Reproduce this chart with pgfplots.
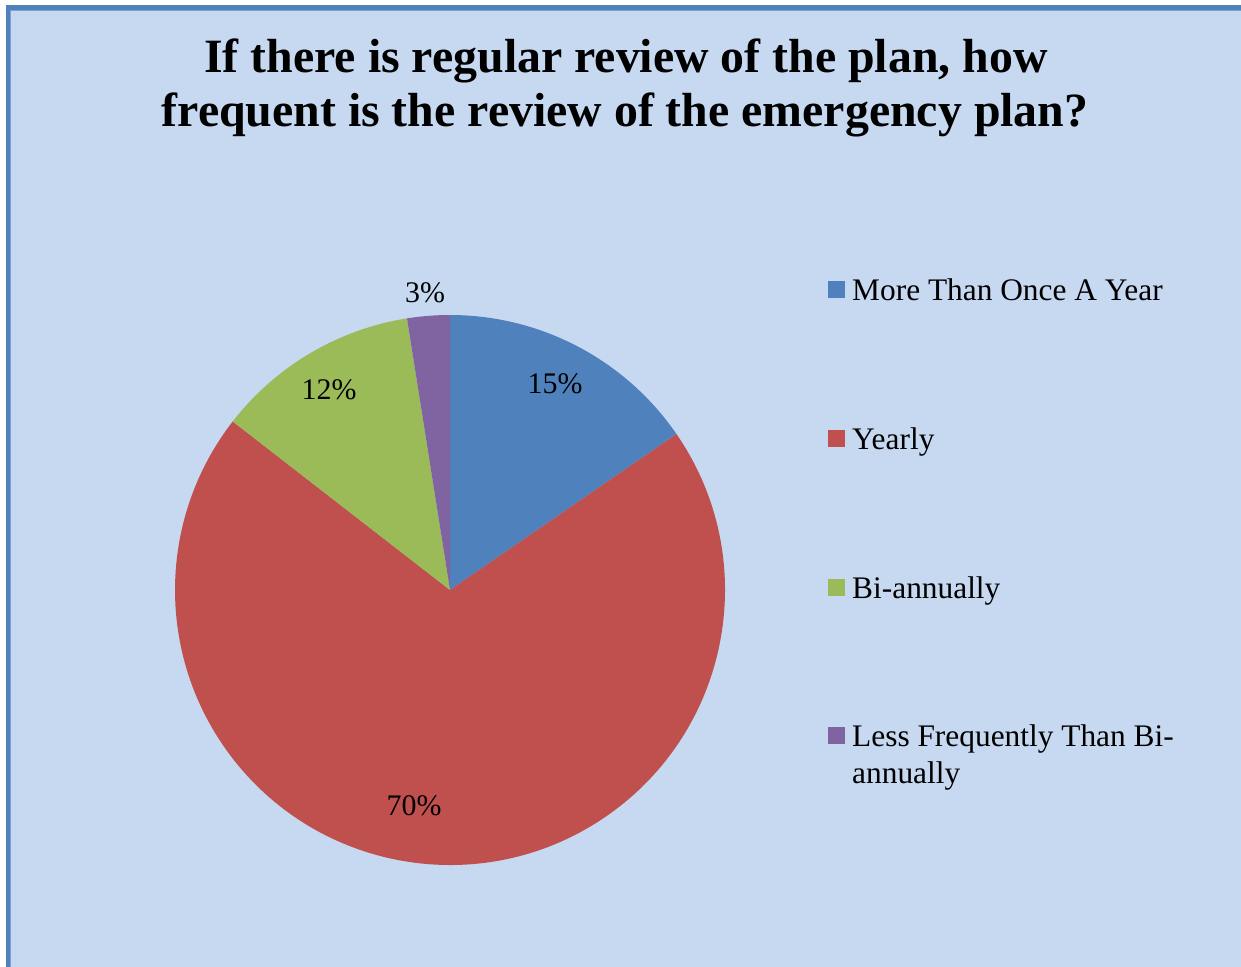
\documentclass[border=0pt]{standalone}
\usepackage{pgfplots}
\pgfplotsset{compat=1.18}
\usepackage{fontspec}
\setmainfont{Liberation Serif}
\definecolor{bg}{HTML}{C6D9F1}
\definecolor{framecol}{HTML}{4F81BD}
\definecolor{framein}{HTML}{7FA1D0}
\definecolor{sA}{HTML}{4F81BD}
\definecolor{sB}{HTML}{C0504D}
\definecolor{sC}{HTML}{9BBB59}
\definecolor{sD}{HTML}{8064A2}
% shares (percent) of the four categories
\def\pA{15.4}\def\pB{70.1}\def\pC{12.0}\def\pD{2.5}
\pgfmathsetmacro\aO{90}
\pgfmathsetmacro\aA{\aO-3.6*\pA}
\pgfmathsetmacro\aB{\aA-3.6*\pB}
\pgfmathsetmacro\aC{\aB-3.6*\pC}
\pgfmathsetmacro\aD{\aC-3.6*\pD}
\begin{document}
\begin{tikzpicture}
\begin{axis}[
  width=1241bp, height=967bp, scale only axis,
  xmin=0, xmax=1241, ymin=0, ymax=967, y dir=reverse,
  hide axis, clip=false]
\coordinate (BL) at (axis cs:0,967);
\coordinate (TR) at (axis cs:1241,0);
% background and frame
\fill[bg] (axis cs:8,8) rectangle (axis cs:1260,990);
\draw[framecol, line width=5bp] (axis cs:8,990) -- (axis cs:8,8) -- (axis cs:1260,8);
\draw[framein, line width=1bp] (axis cs:10.8,990) -- (axis cs:10.8,10.8) -- (axis cs:1260,10.8);
% title
\node[anchor=base, inner sep=0, font=\fontsize{48}{54}\selectfont\bfseries] at (axis cs:626,73) {If there is regular review of the plan, how};
\node[anchor=base, inner sep=0, font=\fontsize{48}{54}\selectfont\bfseries] at (axis cs:625,127) {frequent is the review of the emergency plan?};
% pie
\fill[sA] (axis cs:450,590) -- ++(\aO:275bp) arc[start angle=\aO, end angle=\aA, radius=275bp] -- cycle;
\fill[sB] (axis cs:450,590) -- ++(\aA:275bp) arc[start angle=\aA, end angle=\aB, radius=275bp] -- cycle;
\fill[sC] (axis cs:450,590) -- ++(\aB:275bp) arc[start angle=\aB, end angle=\aC, radius=275bp] -- cycle;
\fill[sD] (axis cs:450,590) -- ++(\aC:275bp) arc[start angle=\aC, end angle=\aD, radius=275bp] -- cycle;
% data labels
\node[font=\fontsize{30}{36}\selectfont] at (axis cs:555,384) {15\%};
\node[font=\fontsize{30}{36}\selectfont] at (axis cs:414,806) {70\%};
\node[font=\fontsize{30}{36}\selectfont] at (axis cs:329,390) {12\%};
\node[font=\fontsize{30}{36}\selectfont] at (axis cs:425,293) {3\%};
% legend
\fill[sA] (axis cs:828,281) rectangle (axis cs:845,298);
\fill[sB] (axis cs:828,430) rectangle (axis cs:845,447);
\fill[sC] (axis cs:828,579) rectangle (axis cs:845,596);
\fill[sD] (axis cs:828,727) rectangle (axis cs:845,744);
\node[anchor=base west, inner sep=0, font=\fontsize{31.5}{37}\selectfont] at (axis cs:852,300) {More Than Once A Year};
\node[anchor=base west, inner sep=0, font=\fontsize{31.5}{37}\selectfont] at (axis cs:852,449) {Yearly};
\node[anchor=base west, inner sep=0, font=\fontsize{31.5}{37}\selectfont] at (axis cs:852,598) {Bi-annually};
\node[anchor=base west, inner sep=0, font=\fontsize{31.5}{37}\selectfont] at (axis cs:852,746) {Less Frequently Than Bi-};
\node[anchor=base west, inner sep=0, font=\fontsize{31.5}{37}\selectfont] at (axis cs:852,783) {annually};
\end{axis}
\pgfresetboundingbox
\useasboundingbox (BL) rectangle (TR);
\end{tikzpicture}
\end{document}
